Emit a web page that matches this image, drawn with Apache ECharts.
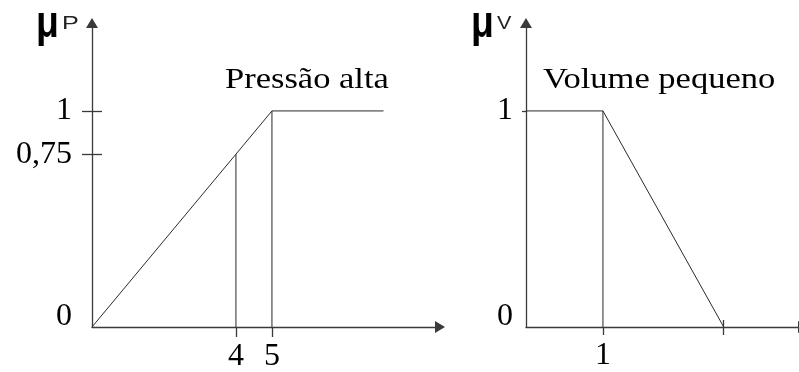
<!DOCTYPE html>
<html>
<head>
<meta charset="utf-8">
<script src="https://cdn.jsdelivr.net/npm/echarts@6/dist/echarts.min.js"></script>
<style>
  html, body { margin: 0; padding: 0; background: #fff; }
  #chart { width: 799px; height: 372px; }
</style>
</head>
<body>
<div id="chart"></div>
<script>
/* Fuzzy sets: "Pressão alta" and "Volume pequeno" */

// left plot: pressure
var pressaoX = [0, 5, 8.1];
var pressaoY = [0, 1, 1];
var corteP4 = [[4, 0], [4, 0.8]];
var corteP5 = [[5, 0], [5, 1]];
var pXTicks = [4, 5];
var pXLabels = ['4', '5'];
var pYTicks = [0, 0.8, 1];
var pYLabels = ['0', '0,75', '1'];

// right plot: volume
var volumeX = [0, 1, 2.57];
var volumeY = [1, 1, 0];
var corteV1 = [[1, 0], [1, 1]];
var vXTicks = [1, 2.57];
var vXLabels = ['1', ''];
var vYTicks = [0, 1];
var vYLabels = ['0', '1'];

var ink = '#000';
var axisColor = '#3a3a3a';
var lineColor = '#2a2a2a';
var serif = '"Liberation Serif", "Times New Roman", serif';
var sans = '"Liberation Sans", Arial, sans-serif';

function zip(xs, ys) {
  return xs.map(function (x, i) { return [x, ys[i]]; });
}
function pick(ticks, labels) {
  return function (v) {
    var best = 0;
    for (var i = 0; i < ticks.length; i++) {
      if (Math.abs(ticks[i] - v) < Math.abs(ticks[best] - v)) best = i;
    }
    return labels[best];
  };
}
function yFmt(ticks, labels) {
  var f = pick(ticks, labels);
  return function (v) {
    var t = f(v);
    return Math.abs(v) < 1e-9 ? '{z|' + t + '}' : '{n|' + t + '}';
  };
}
var numRich = {
  z: { fontFamily: serif, fontSize: 32, color: ink, padding: [0, 0, 21, 0] },
  n: { fontFamily: serif, fontSize: 32, color: ink }
};
var axisLine = function (arrow) {
  return {
    show: true, onZero: false,
    symbol: arrow ? ['none', 'triangle'] : 'none',
    symbolSize: [12, 10],
    lineStyle: { color: axisColor, width: 1.3 }
  };
};
var yMax = 1.407;

var chart = echarts.init(document.getElementById('chart'), null, { renderer: 'canvas' });
chart.setOption({
  animation: false,
  backgroundColor: '#fff',
  grid: [
    { left: 92, right: 359, top: 23, bottom: 45, containLabel: false, outerBoundsMode: 'none' },
    { left: 526, right: -4, top: 23, bottom: 45, containLabel: false, outerBoundsMode: 'none' }
  ],
  xAxis: [
    { type: 'value', gridIndex: 0, min: 0, max: 9.67, position: 'bottom',
      axisLine: axisLine(true), splitLine: { show: false },
      axisTick: { show: true, customValues: pXTicks, length: 10, lineStyle: { color: axisColor, width: 1.3 } },
      axisLabel: { show: true, customValues: pXTicks, formatter: pick(pXTicks, pXLabels), margin: 14,
        fontFamily: serif, fontSize: 32, color: ink } },
    { type: 'value', gridIndex: 1, min: 0, max: 3.6, position: 'bottom',
      axisLine: axisLine(true), splitLine: { show: false },
      axisTick: { show: true, customValues: vXTicks, length: 8, lineStyle: { color: axisColor, width: 1.3 } },
      axisLabel: { show: true, customValues: vXTicks, formatter: pick(vXTicks, vXLabels), margin: 13,
        fontFamily: serif, fontSize: 32, color: ink } },
    // inner half of the crossing tick
    { type: 'value', gridIndex: 1, min: 0, max: 3.6, position: 'bottom',
      axisLine: { show: false }, splitLine: { show: false }, axisLabel: { show: false },
      axisTick: { show: true, inside: true, customValues: [2.57], length: 7, lineStyle: { color: axisColor, width: 1.3 } } }
  ],
  yAxis: [
    { type: 'value', gridIndex: 0, min: 0, max: yMax, position: 'left',
      axisLine: axisLine(true), splitLine: { show: false },
      axisTick: { show: true, customValues: [0.8, 1], length: 10, lineStyle: { color: axisColor, width: 1.3 } },
      axisLabel: { show: true, customValues: pYTicks, formatter: yFmt(pYTicks, pYLabels), margin: 20, rich: numRich } },
    // inner half of the crossing ticks
    { type: 'value', gridIndex: 0, min: 0, max: yMax, position: 'left',
      axisLine: { show: false }, splitLine: { show: false }, axisLabel: { show: false },
      axisTick: { show: true, inside: true, customValues: [0.8, 1], length: 10, lineStyle: { color: axisColor, width: 1.3 } } },
    { type: 'value', gridIndex: 1, min: 0, max: yMax, position: 'left',
      axisLine: axisLine(true), splitLine: { show: false },
      axisTick: { show: true, customValues: [1], length: 4, lineStyle: { color: axisColor, width: 1.3 } },
      axisLabel: { show: true, customValues: vYTicks, formatter: yFmt(vYTicks, vYLabels), margin: 13, rich: numRich } }
  ],
  series: [
    { type: 'line', xAxisIndex: 0, yAxisIndex: 0, data: zip(pressaoX, pressaoY), showSymbol: false,
      lineStyle: { color: lineColor, width: 1 } },
    { type: 'line', xAxisIndex: 0, yAxisIndex: 0, data: corteP4, showSymbol: false,
      lineStyle: { color: lineColor, width: 1 } },
    { type: 'line', xAxisIndex: 0, yAxisIndex: 0, data: corteP5, showSymbol: false,
      lineStyle: { color: lineColor, width: 1 } },
    { type: 'line', xAxisIndex: 1, yAxisIndex: 2, data: zip(volumeX, volumeY), showSymbol: false,
      lineStyle: { color: lineColor, width: 1 } },
    { type: 'line', xAxisIndex: 1, yAxisIndex: 2, data: corteV1, showSymbol: false,
      lineStyle: { color: lineColor, width: 1 } }
  ],
  graphic: [
    { type: 'text', x: 225, y: 80, scaleX: 1.15,
      style: { text: 'Pressão alta', font: '30px ' + serif, fill: ink, align: 'left', verticalAlign: 'middle' } },
    { type: 'text', x: 543, y: 80, scaleX: 1.15,
      style: { text: 'Volume pequeno', font: '30px ' + serif, fill: ink, align: 'left', verticalAlign: 'middle' } },
    { type: 'text', x: 36, y: 25, scaleX: 0.85,
      style: { text: 'μ', font: 'bold 44px ' + sans, fill: ink, align: 'left', verticalAlign: 'middle' } },
    { type: 'text', x: 62, y: 24, scaleX: 1.4,
      style: { text: 'P', font: '18px ' + sans, fill: '#222', align: 'left', verticalAlign: 'middle' } },
    { type: 'text', x: 471, y: 25, scaleX: 0.85,
      style: { text: 'μ', font: 'bold 44px ' + sans, fill: ink, align: 'left', verticalAlign: 'middle' } },
    { type: 'text', x: 497, y: 24, scaleX: 1.2,
      style: { text: 'V', font: '18px ' + sans, fill: '#222', align: 'left', verticalAlign: 'middle' } }
  ]
});
</script>
</body>
</html>
